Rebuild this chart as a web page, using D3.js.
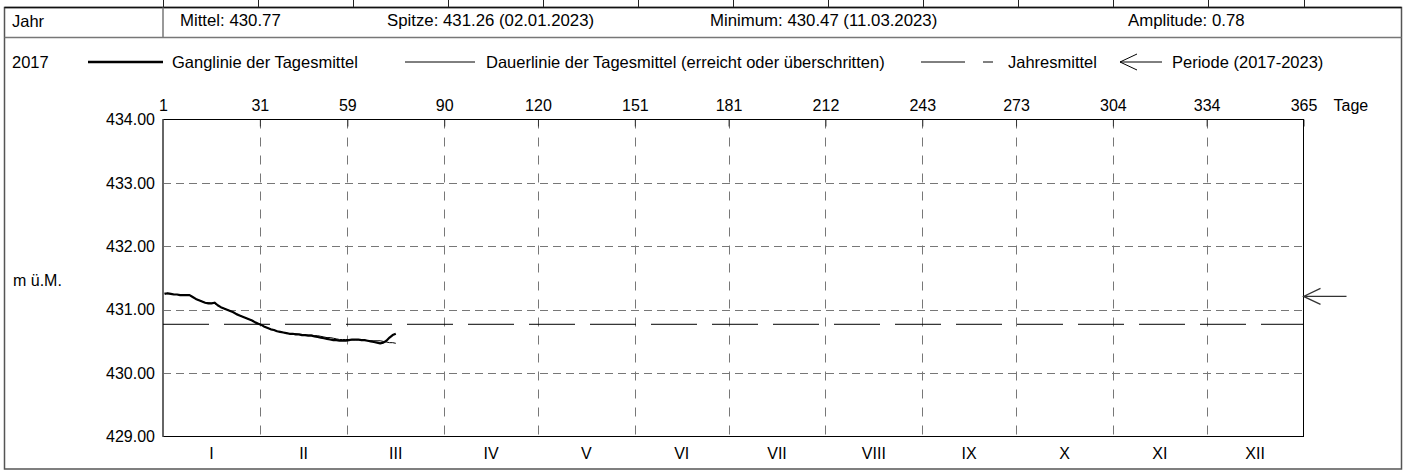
<!DOCTYPE html>
<html lang="de">
<head>
  <meta charset="UTF-8">
  <title>Ganglinie 2017</title>
  <style>
    body { margin: 0; background: #fff; }
    text { font-family: "Liberation Sans", Arial, sans-serif; font-size: 16px; fill: #000; }
  </style>
</head>
<body>
  <svg id="svg" width="1406" height="472"></svg>
  <script src="https://d3js.org/d3.v7.min.js"></script>
  <script>
    // Tick positions (end of month, day of year) and their labels
    const monthDays = [0, 31, 59, 90, 120, 151, 181, 212, 243, 273, 304, 334, 365]
    const dayLabels = ['1', '31', '59', '90', '120', '151', '181', '212', '243', '273', '304', '334', '365']
    const months = ['I', 'II', 'III', 'IV', 'V', 'VI', 'VII', 'VIII', 'IX', 'X', 'XI', 'XII']
    const levelTicks = [429, 430, 431, 432, 433, 434]

    // Ganglinie der Tagesmittel, day 1 .. 75 (m ü.M.)
    const ganglinie = [
      431.25, 431.26, 431.25, 431.24, 431.24, 431.23, 431.23, 431.23, 431.23, 431.20,
      431.17, 431.15, 431.13, 431.11, 431.10, 431.10, 431.11, 431.07, 431.04, 431.02,
      431.00, 430.98, 430.96, 430.93, 430.91, 430.89, 430.87, 430.85, 430.83, 430.80,
      430.78, 430.76, 430.73, 430.71, 430.69, 430.68, 430.66, 430.65, 430.64, 430.63,
      430.62, 430.62, 430.61, 430.61, 430.60, 430.60, 430.59, 430.59, 430.58, 430.57,
      430.56, 430.55, 430.54, 430.53, 430.52, 430.52, 430.51, 430.51, 430.51, 430.52,
      430.53, 430.53, 430.53, 430.52, 430.52, 430.51, 430.50, 430.49, 430.48, 430.47,
      430.48, 430.51, 430.56, 430.60, 430.62
    ]
    // Dauerlinie der Tagesmittel (erreicht oder überschritten)
    const dauerlinie = [
      431.26, 431.25, 431.25, 431.24, 431.24, 431.23, 431.23, 431.23, 431.23, 431.20,
      431.17, 431.15, 431.13, 431.11, 431.11, 431.10, 431.10, 431.07, 431.04, 431.02,
      431.00, 430.98, 430.96, 430.93, 430.91, 430.89, 430.87, 430.85, 430.83, 430.80,
      430.78, 430.76, 430.73, 430.71, 430.69, 430.68, 430.66, 430.65, 430.64, 430.63,
      430.62, 430.62, 430.62, 430.61, 430.61, 430.60, 430.60, 430.60, 430.59, 430.59,
      430.58, 430.57, 430.56, 430.56, 430.55, 430.54, 430.53, 430.53, 430.53, 430.53,
      430.52, 430.52, 430.52, 430.52, 430.52, 430.51, 430.51, 430.51, 430.51, 430.51,
      430.50, 430.49, 430.48, 430.48, 430.47
    ]
    const jahresmittel = 430.77
    const periodeMittel = 431.21

    const headerTexts = ['Mittel: 430.77', 'Spitze: 431.26 (02.01.2023)', 'Minimum: 430.47 (11.03.2023)', 'Amplitude: 0.78']
    const legendTexts = ['Ganglinie der Tagesmittel', 'Dauerlinie der Tagesmittel (erreicht oder überschritten)', 'Jahresmittel', 'Periode (2017-2023)']

    const W = 1406
    const plotL = 163, plotR = 1303.5, plotT = 119.5, plotB = 436.5
    const frameL = 4.5, frameR = 1401.5, frameT = 7.5, frameB = 469

    const svg = d3.select('#svg')
    svg.append('rect').attr('width', W).attr('height', 472).attr('fill', '#fff')

    const xScale = d3.scaleLinear().domain([0, 365]).range([plotL, plotR])
    const yScale = d3.scaleLinear().domain([429, 434]).range([plotB, plotT])

    // ---- frame / table lines
    const frameColor = '#555'
    const colScale = d3.scaleLinear().domain([0, 12]).range([plotL, plotR])
    svg.append('g')
      .selectAll('line')
      .data(d3.range(13))
      .enter()
      .append('line')
      .attr('x1', d => Math.round(colScale(d)) + 0.5)
      .attr('x2', d => Math.round(colScale(d)) + 0.5)
      .attr('y1', 0)
      .attr('y2', frameT)
      .attr('stroke', '#222')
    svg.append('rect')
      .attr('x', frameL).attr('y', frameT)
      .attr('width', frameR - frameL).attr('height', frameB - frameT)
      .attr('fill', 'none').attr('stroke', frameColor).attr('stroke-width', 1.5)
    svg.append('line')
      .attr('x1', frameL).attr('x2', frameR).attr('y1', frameT).attr('y2', frameT)
      .attr('stroke', '#111').attr('stroke-width', 1.5)
    svg.append('line')
      .attr('x1', frameL).attr('x2', frameR).attr('y1', 37.5).attr('y2', 37.5)
      .attr('stroke', '#777').attr('stroke-width', 1.5)
    svg.append('line')
      .attr('x1', plotL).attr('x2', plotL).attr('y1', frameT).attr('y2', 37.5)
      .attr('stroke', '#777').attr('stroke-width', 1.5)

    // ---- header row
    svg.append('text').attr('x', 12).attr('y', 27).style('font-size', '16.5px').text('Jahr')
    const headerX = [180, 387, 710, 1128]
    svg.append('g')
      .selectAll('text')
      .data(headerTexts)
      .enter()
      .append('text')
      .attr('x', (d, i) => headerX[i])
      .attr('y', 26)
      .style('font-size', '16.8px')
      .text(d => d)

    // ---- legend row
    const legY = 62
    svg.append('text').attr('x', 12).attr('y', legY + 6).style('font-size', '16.5px').text('2017')
    const lg = svg.append('g')
    lg.append('line').attr('x1', 88).attr('x2', 163).attr('y1', legY).attr('y2', legY)
      .attr('stroke', '#000').attr('stroke-width', 2.4)
    lg.append('line').attr('x1', 405).attr('x2', 475).attr('y1', legY).attr('y2', legY)
      .attr('stroke', '#000').attr('stroke-width', 1)
    lg.append('line').attr('x1', 921).attr('x2', 965).attr('y1', legY).attr('y2', legY)
      .attr('stroke', '#000').attr('stroke-width', 1)
    lg.append('line').attr('x1', 983).attr('x2', 993).attr('y1', legY).attr('y2', legY)
      .attr('stroke', '#000').attr('stroke-width', 1)
    lg.append('path')
      .attr('d', `M1162,${legY}H1120M1137,${legY - 8}L1120,${legY}L1137,${legY + 8}`)
      .attr('fill', 'none').attr('stroke', '#000').attr('stroke-width', 1)
    const legendX = [172, 486, 1008, 1172]
    lg.selectAll('text')
      .data(legendTexts)
      .enter()
      .append('text')
      .attr('x', (d, i) => legendX[i])
      .attr('y', legY + 6)
      .style('font-size', '16.5px')
      .text(d => d)

    // ---- grid
    const grid = svg.append('g')
    grid.selectAll('.hgrid')
      .data(levelTicks.slice(1, -1))
      .enter()
      .append('line')
      .attr('x1', plotL).attr('x2', plotR)
      .attr('y1', d => Math.round(yScale(d)) + 0.5)
      .attr('y2', d => Math.round(yScale(d)) + 0.5)
      .attr('stroke', '#777').attr('stroke-dasharray', '8,5')
    grid.selectAll('.vgrid')
      .data(monthDays.slice(1, -1))
      .enter()
      .append('line')
      .attr('x1', d => Math.round(xScale(d)) + 0.5)
      .attr('x2', d => Math.round(xScale(d)) + 0.5)
      .attr('y1', plotT).attr('y2', plotB)
      .attr('stroke', '#777').attr('stroke-dasharray', '9,9')

    // ---- axes
    const topAxis = d3.axisTop(xScale)
      .tickValues(monthDays)
      .tickFormat((d, i) => dayLabels[i])
      .tickSizeInner(-7)
      .tickSizeOuter(0)
      .tickPadding(9)
    const gTop = svg.append('g')
      .attr('transform', `translate(0, ${plotT})`)
      .call(topAxis)
    gTop.select('.domain').remove()
    gTop.selectAll('line').attr('stroke', '#333')
    gTop.selectAll('text').style('font-size', '16px').attr('font-family', null)

    const leftAxis = d3.axisLeft(yScale)
      .tickValues(levelTicks)
      .tickFormat(d3.format('.2f'))
      .tickSize(0)
      .tickPadding(8)
    const gLeft = svg.append('g')
      .attr('transform', `translate(${plotL}, 0)`)
      .call(leftAxis)
    gLeft.select('.domain').remove()
    gLeft.selectAll('text').style('font-size', '16px').attr('font-family', null)

    svg.append('text').attr('x', plotR + 30).attr('y', plotT - 9).text('Tage')
    svg.append('text').attr('x', 13).attr('y', 286).text('m ü.M.')

    svg.append('g')
      .selectAll('text')
      .data(months)
      .enter()
      .append('text')
      .attr('x', (d, i) => xScale((monthDays[i] + monthDays[i + 1]) / 2))
      .attr('y', 459)
      .attr('text-anchor', 'middle')
      .text(d => d)

    // ---- plot border
    svg.append('rect')
      .attr('x', plotL).attr('y', plotT)
      .attr('width', plotR - plotL).attr('height', plotB - plotT)
      .attr('fill', 'none').attr('stroke', '#000').attr('stroke-width', 1)
    svg.append('line')
      .attr('x1', plotL).attr('x2', plotL).attr('y1', plotT).attr('y2', plotB)
      .attr('stroke', '#666').attr('stroke-width', 2)

    // ---- Jahresmittel
    svg.append('line')
      .attr('x1', plotL).attr('x2', plotR)
      .attr('y1', yScale(jahresmittel)).attr('y2', yScale(jahresmittel))
      .attr('stroke', '#000').attr('stroke-width', 1)
      .attr('stroke-dasharray', '46,15')

    // ---- Dauerlinie / Ganglinie
    const line = d3.line()
      .x((d, i) => xScale(i + 0.5))
      .y(d => yScale(d))
    svg.append('path')
      .datum(dauerlinie)
      .attr('d', line)
      .attr('fill', 'none').attr('stroke', '#000').attr('stroke-width', 1)
    svg.append('path')
      .datum(ganglinie)
      .attr('d', line)
      .attr('fill', 'none').attr('stroke', '#000').attr('stroke-width', 2.2)
      .attr('stroke-linejoin', 'round')

    // ---- Periode arrow
    const py = yScale(periodeMittel)
    svg.append('path')
      .attr('d', `M${plotR + 43},${py}H${plotR}M${plotR + 17},${py - 8}L${plotR},${py}L${plotR + 17},${py + 8}`)
      .attr('fill', 'none').attr('stroke', '#333').attr('stroke-width', 1.2)
  </script>
</body>
</html>
